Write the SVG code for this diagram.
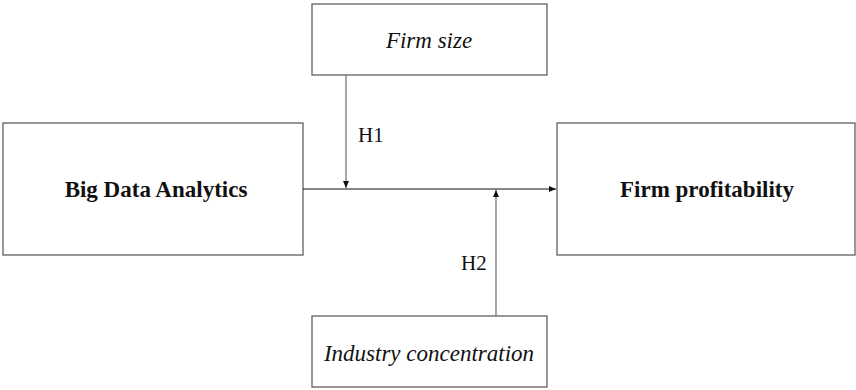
<svg xmlns="http://www.w3.org/2000/svg" width="856" height="390" viewBox="0 0 856 390">
<style>
.box{fill:#fff;stroke:#606060;stroke-width:1.3}
.t{font-family:'Liberation Serif','Times New Roman',Tinos,'DejaVu Serif',serif;font-size:23px;fill:#111}
.s{font-size:21px}
.b{font-weight:bold;text-anchor:middle}
.i{font-style:italic;text-anchor:middle}
.ln{stroke:#111;stroke-width:1.2;fill:none}
.lg{stroke:#777;stroke-width:1.3;fill:none}
</style>
<defs>
<marker id="ah" markerWidth="8" markerHeight="8" refX="7" refY="4" orient="auto" markerUnits="userSpaceOnUse">
<path d="M0,1 L7,4 L0,7 Z" fill="#111"/>
</marker>
</defs>
<rect width="856" height="390" fill="#fff"/>
<g id="firm-size"><rect class="box" x="312" y="4" width="235" height="71"/><text class="t i" x="429" y="48">Firm size</text></g>
<g id="big-data"><rect class="box" x="3" y="123" width="300" height="132"/><text class="t b" x="156" y="197">Big Data Analytics</text></g>
<g id="firm-profitability"><rect class="box" x="557" y="123" width="298" height="132"/><text class="t b" x="707" y="197">Firm profitability</text></g>
<g id="industry"><rect class="box" x="312" y="316" width="235" height="71"/><text class="t i" x="429" y="361">Industry concentration</text></g>
<g id="connectors">
<line class="ln" x1="303" y1="189" x2="556" y2="189" marker-end="url(#ah)"/>
<line class="lg" x1="346" y1="75" x2="346" y2="188" marker-end="url(#ah)"/>
<line class="lg" x1="496" y1="316" x2="496" y2="190" marker-end="url(#ah)"/>
<text class="t s" x="358" y="142">H1</text>
<text class="t s" x="461" y="270">H2</text>
</g>
</svg>
